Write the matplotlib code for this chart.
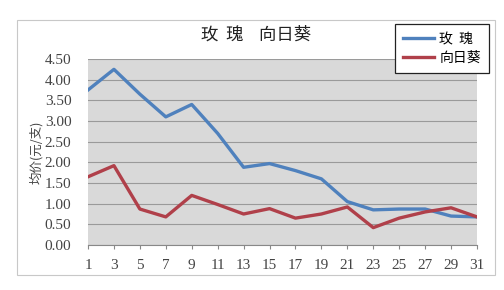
import matplotlib
matplotlib.use('Agg')
import matplotlib.pyplot as plt
import matplotlib.patches as patches

plt.rcParams['font.family'] = ['Noto Sans CJK SC', 'DejaVu Sans']

days = [1, 3, 5, 7, 9, 11, 13, 15, 17, 19, 21, 23, 25, 27, 29, 31]
rose = [3.75, 4.25, 3.65, 3.10, 3.40, 2.70, 1.88, 1.97, 1.80, 1.60,
        1.05, 0.85, 0.87, 0.87, 0.70, 0.68]
sunflower = [1.65, 1.92, 0.87, 0.68, 1.20, 0.98, 0.75, 0.88, 0.65, 0.75,
             0.92, 0.42, 0.65, 0.80, 0.90, 0.68]
yticks = [0.0, 0.5, 1.0, 1.5, 2.0, 2.5, 3.0, 3.5, 4.0, 4.5]

fig = plt.figure(figsize=(5.04, 2.90), dpi=100)
W, H = 504, 290

# outer chart frame
frame = patches.Rectangle((17 / W, 1 - 275 / H), (495 - 17) / W, (275 - 20) / H,
                          transform=fig.transFigure, fc='white', ec='#C8C8C8', lw=0.8, zorder=-5)
fig.patches.append(frame)

ax = fig.add_axes([88 / W, 1 - 245 / H, (477 - 88) / W, (245 - 59) / H])
ax.set_facecolor('#D9D9D9')
x = list(range(len(days)))
ax.plot(x, rose, color='#4F81BD', lw=2.4, label='玫  瑰')
ax.plot(x, sunflower, color='#B0404A', lw=2.4, label='向日葵')

ax.set_xlim(0, len(days) - 1)
ax.set_ylim(0, 4.5)
ax.set_yticks(yticks)
ax.set_yticklabels(['%.2f' % v for v in yticks], family='Liberation Serif', fontsize=11, color='#444444')
ax.set_xticks(x)
ax.set_xticklabels([str(d) for d in days], family='Liberation Serif', fontsize=11, color='#444444')
ax.tick_params(axis='x', length=3, color='#888888', pad=7)
ax.tick_params(axis='y', length=0, pad=12)
ax.grid(axis='y', color='#9A9A9A', lw=0.8)
ax.set_axisbelow(True)
for s in ['top', 'right', 'left']:
    ax.spines[s].set_visible(False)
ax.spines['bottom'].set_color('#888888')

ax.set_ylabel('均价(元/支)', fontsize=9, color='#444444', labelpad=1)

fig.text(256 / W, 1 - 35 / H, '玫  瑰    向日葵', ha='center', va='center', fontsize=12.5, color='#222222')

leg = fig.legend(loc='upper left', bbox_to_anchor=(395 / W, 1 - 24 / H), frameon=True,
                 fontsize=10, handlelength=2.2, handletextpad=0.4, borderpad=0.6,
                 labelspacing=0.3, borderaxespad=0, fancybox=False, framealpha=1)
leg.get_frame().set_edgecolor('#222222')
leg.get_frame().set_linewidth(0.9)
leg.set_zorder(10)

plt.savefig('out.png', dpi=100, facecolor='white')
